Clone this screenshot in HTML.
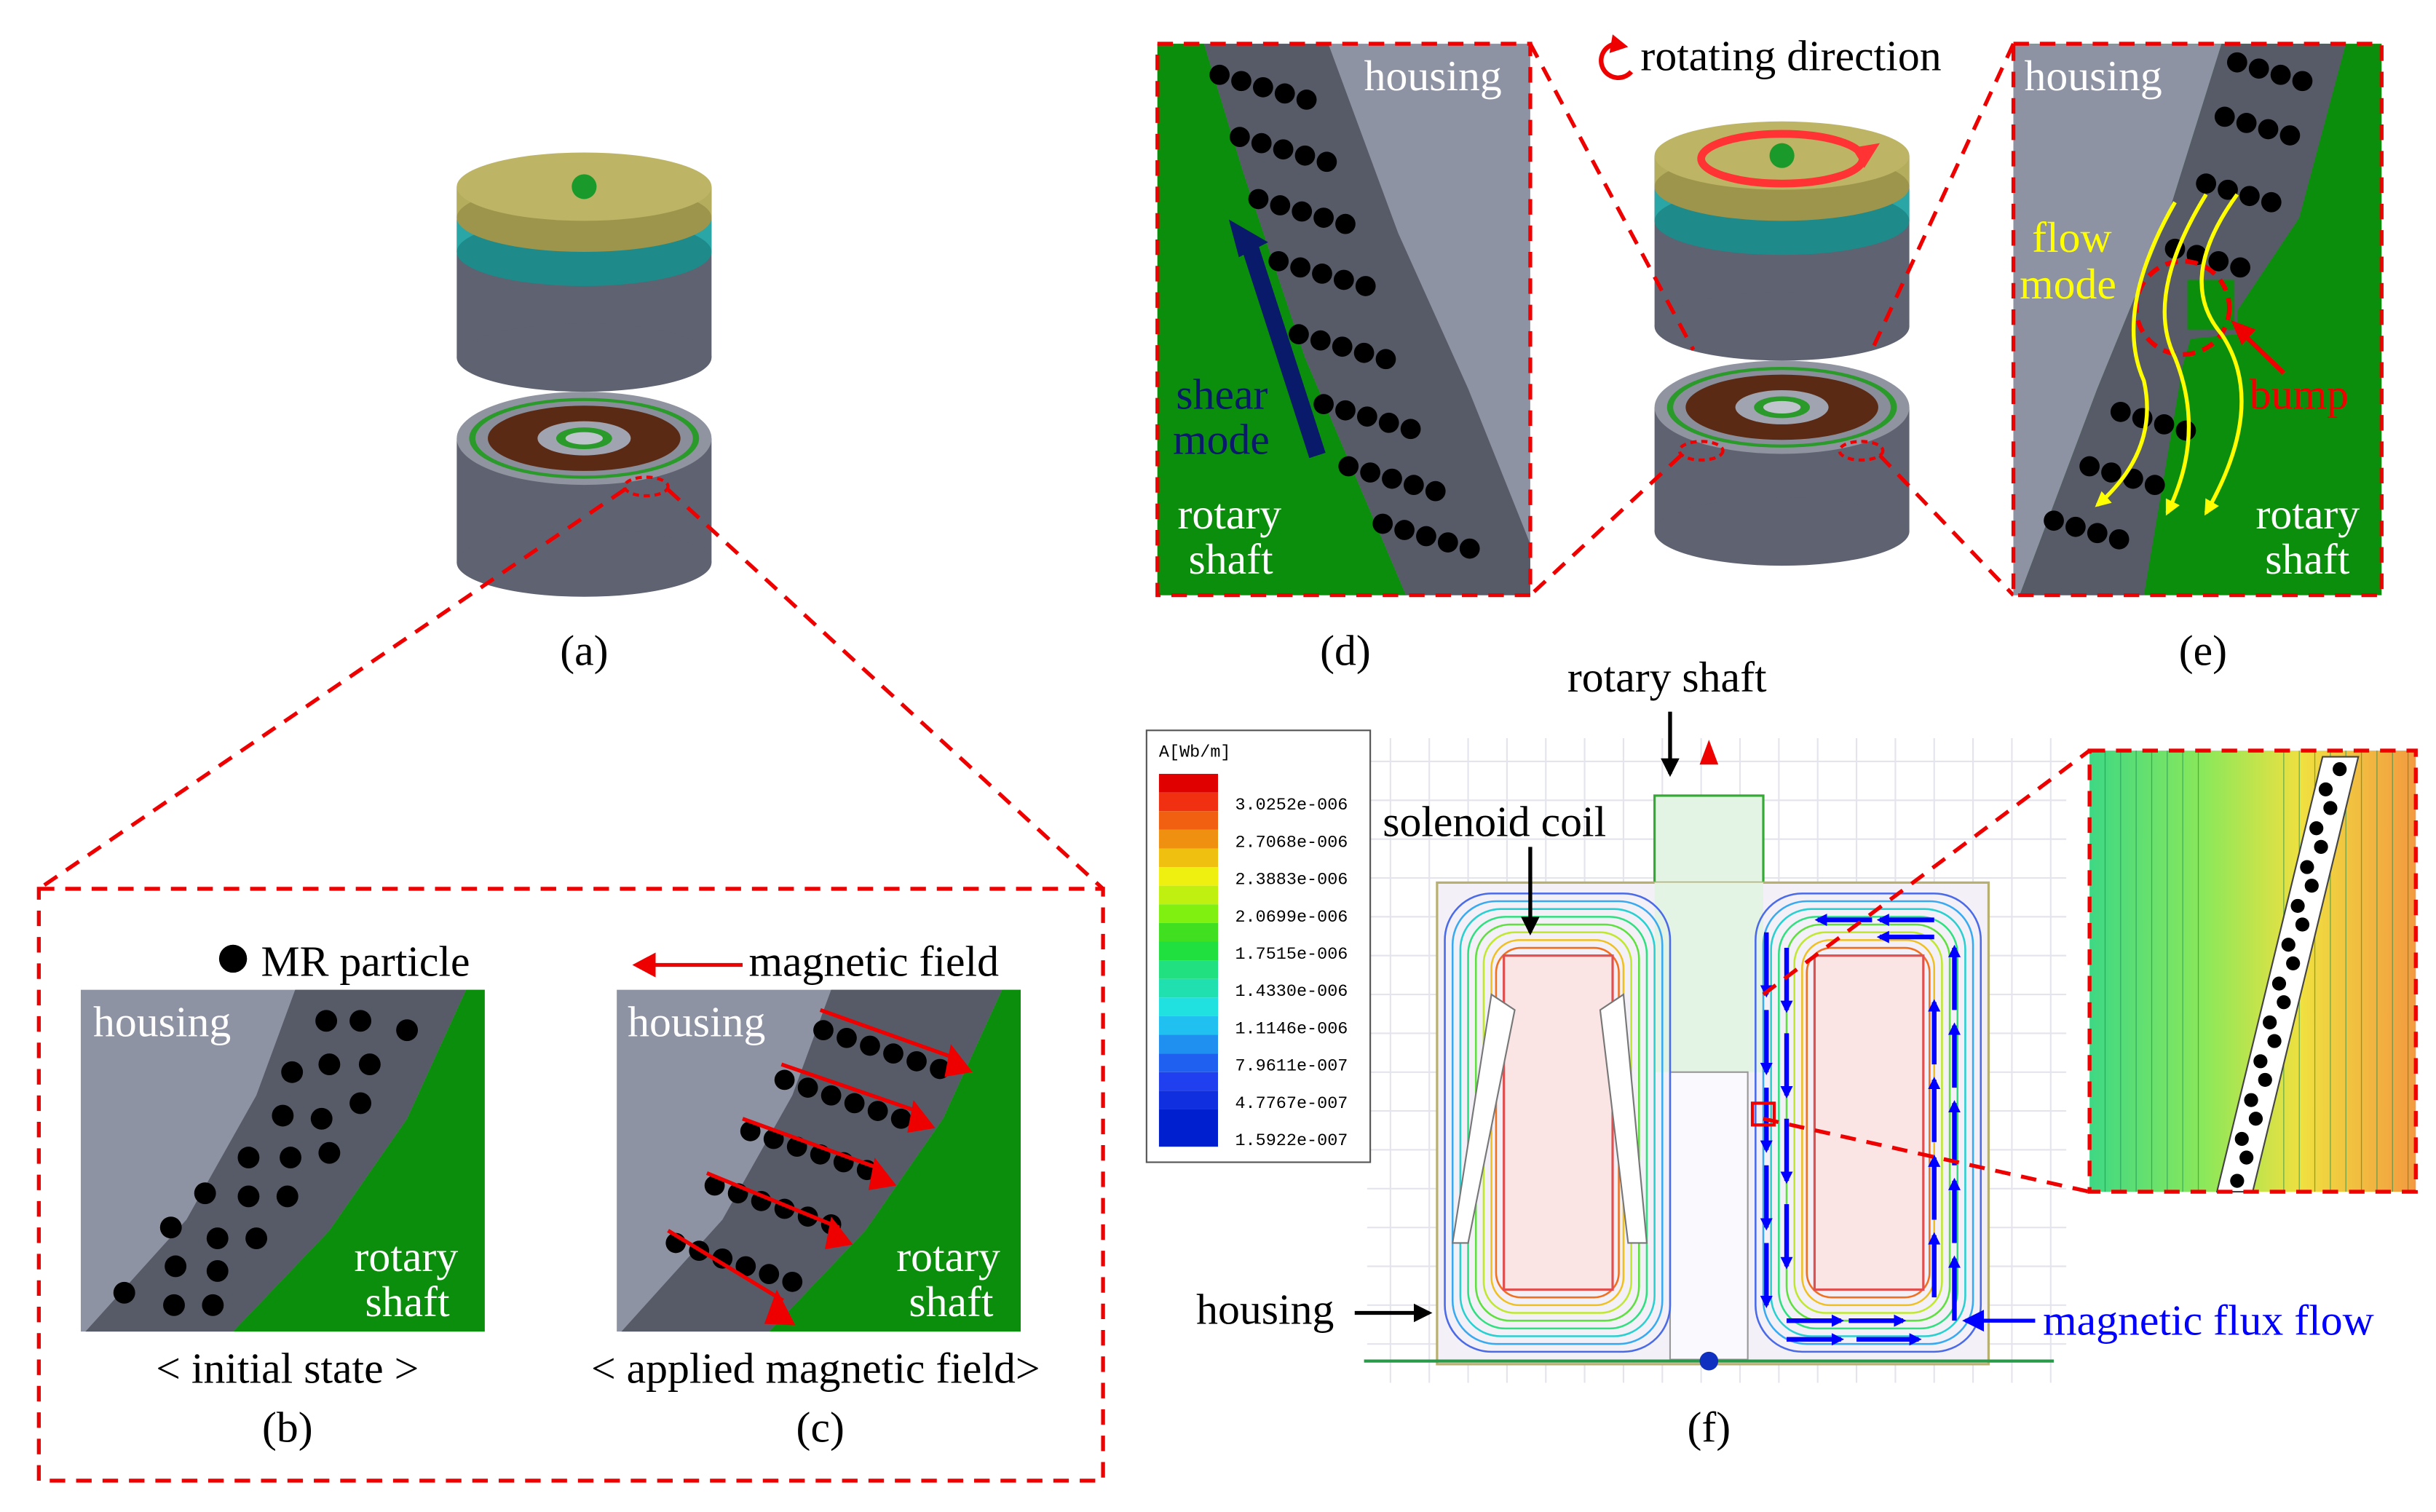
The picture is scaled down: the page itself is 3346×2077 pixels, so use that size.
<!DOCTYPE html>
<html><head><meta charset="utf-8"><style>
html,body{margin:0;padding:0;background:#fff;}
svg{display:block;}
text{font-family:"Liberation Serif",serif;}
text.mono{font-family:"Liberation Mono",monospace;}
</style></head><body>
<svg width="3346" height="2077" viewBox="0 0 1568 973" xmlns="http://www.w3.org/2000/svg">
<defs>
<marker id="ab" markerWidth="8" markerHeight="8" refX="6" refY="4" orient="auto" markerUnits="userSpaceOnUse"><path d="M0,0 L8,4 L0,8 z" fill="#00f"/></marker>
<marker id="ak" markerWidth="12" markerHeight="12" refX="10" refY="6" orient="auto" markerUnits="userSpaceOnUse"><path d="M0,0 L12,6 L0,12 z" fill="#000"/></marker>
<marker id="ay" markerWidth="10" markerHeight="10" refX="8" refY="5" orient="auto" markerUnits="userSpaceOnUse"><path d="M0,0 L10,5 L0,10 z" fill="#ff0"/></marker>
<marker id="abl" markerWidth="14" markerHeight="14" refX="12" refY="7" orient="auto" markerUnits="userSpaceOnUse"><path d="M0,0 L14,7 L0,14 z" fill="#00f"/></marker>
<linearGradient id="ing" x1="0" x2="1"><stop offset="0" stop-color="#3ed884"/><stop offset="0.35" stop-color="#8be85a"/><stop offset="0.65" stop-color="#f0e040"/><stop offset="1" stop-color="#f39a40"/></linearGradient>
<g id="rd"><circle cx="0" cy="0" r="6.5"/><circle cx="14" cy="4" r="6.5"/><circle cx="28" cy="8" r="6.5"/><circle cx="42" cy="12" r="6.5"/><circle cx="56" cy="16" r="6.5"/></g>
<g id="re"><circle cx="0" cy="0" r="6.5"/><circle cx="14" cy="4" r="6.5"/><circle cx="28" cy="8" r="6.5"/><circle cx="42" cy="12" r="6.5"/></g>
<g id="row1"><circle cx="0" cy="0" r="6.5"/><circle cx="15" cy="5" r="6.5"/><circle cx="30" cy="10" r="6.5"/><circle cx="45" cy="15" r="6.5"/><circle cx="60" cy="20" r="6.5"/><circle cx="75" cy="25" r="6.5"/></g>
<g id="dev">
 <rect x="-82" y="0" width="164" height="110" fill="#5f6270"/>
 <ellipse cx="0" cy="110" rx="82" ry="22" fill="#5f6270"/>
 <rect x="-82" y="22" width="164" height="20" fill="#2aa6a6"/>
 <ellipse cx="0" cy="42" rx="82" ry="22" fill="#1e8a8a"/>
 <rect x="-82" y="0" width="164" height="20" fill="#b5ad5e"/>
 <ellipse cx="0" cy="20" rx="82" ry="22" fill="#9d954c"/>
 <ellipse cx="0" cy="0" rx="82" ry="22" fill="#bdb565"/>
 <circle cx="0" cy="0" r="8" fill="#1a9a2a"/>
 <rect x="-82" y="162" width="164" height="80" fill="#5f6270"/>
 <ellipse cx="0" cy="242" rx="82" ry="22" fill="#5f6270"/>
 <ellipse cx="0" cy="162" rx="82" ry="30" fill="#9094a0"/>
 <ellipse cx="0" cy="162" rx="74" ry="26" fill="#2a9a2a"/>
 <ellipse cx="0" cy="162" rx="70" ry="24" fill="#8a8e9a"/>
 <ellipse cx="0" cy="162" rx="62" ry="21" fill="#5a2a14"/>
 <ellipse cx="0" cy="162" rx="30" ry="11" fill="#a0a4b0"/>
 <ellipse cx="0" cy="162" rx="18" ry="7" fill="#2a9a2a"/>
 <ellipse cx="0" cy="162" rx="12" ry="4" fill="#c0c4cc"/>
</g>
</defs>
<rect width="1568" height="973" fill="#fff"/>

<!-- (a) -->
<use href="#dev" x="376" y="120"/>
<ellipse cx="416" cy="313" rx="14" ry="6" fill="none" stroke="#e00" stroke-width="2" stroke-dasharray="4,3"/>
<text x="376" y="428" font-size="28" text-anchor="middle">(a)</text>
<line x1="402" y1="315" x2="25" y2="572" stroke="#e00" stroke-width="2.5" stroke-dasharray="10,7"/>
<line x1="430" y1="315" x2="710" y2="572" stroke="#e00" stroke-width="2.5" stroke-dasharray="10,7"/>
<rect x="25" y="572" width="685" height="381" fill="none" stroke="#e00" stroke-width="2.5" stroke-dasharray="10,7"/>

<!-- (b) -->
<rect x="52" y="637" width="260" height="220" fill="#8e93a3"/>
<polygon points="55,857 120,785 165,705 190,637 300,637 262,720 212,792 150,857" fill="#575a67"/>
<polygon points="150,857 212,792 262,720 300,637 312,637 312,857" fill="#0b8e0b"/>
<g fill="#000">
<circle cx="210" cy="657" r="7"/><circle cx="232" cy="657" r="7"/><circle cx="262" cy="663" r="7"/>
<circle cx="188" cy="690" r="7"/><circle cx="212" cy="685" r="7"/><circle cx="238" cy="685" r="7"/>
<circle cx="182" cy="718" r="7"/><circle cx="207" cy="720" r="7"/><circle cx="232" cy="710" r="7"/>
<circle cx="160" cy="745" r="7"/><circle cx="187" cy="745" r="7"/><circle cx="212" cy="742" r="7"/>
<circle cx="132" cy="768" r="7"/><circle cx="160" cy="770" r="7"/><circle cx="185" cy="770" r="7"/>
<circle cx="110" cy="790" r="7"/><circle cx="140" cy="797" r="7"/><circle cx="165" cy="797" r="7"/>
<circle cx="80" cy="832" r="7"/><circle cx="113" cy="815" r="7"/><circle cx="112" cy="840" r="7"/><circle cx="137" cy="840" r="7"/><circle cx="140" cy="818" r="7"/>
</g>
<circle cx="150" cy="617" r="9" fill="#000"/>
<text x="168" y="628" font-size="28">MR particle</text>
<text x="60" y="667" font-size="28" fill="#fff">housing</text>
<text x="228" y="818" font-size="28" fill="#fff">rotary</text>
<text x="235" y="847" font-size="28" fill="#fff">shaft</text>
<text x="185" y="890" font-size="28" text-anchor="middle">&lt; initial state &gt;</text>
<text x="185" y="928" font-size="28" text-anchor="middle">(b)</text>

<!-- (c) -->
<rect x="397" y="637" width="260" height="220" fill="#8e93a3"/>
<polygon points="400,857 465,785 510,705 535,637 645,637 607,720 557,792 495,857" fill="#575a67"/>
<polygon points="495,857 557,792 607,720 645,637 657,637 657,857" fill="#0b8e0b"/>
<g fill="#000">
<use href="#row1" x="530" y="663"/><use href="#row1" x="505" y="695"/><use href="#row1" x="483" y="728"/><use href="#row1" x="460" y="763"/><use href="#row1" x="435" y="800"/>
</g>
<g stroke="#e00" stroke-width="2.5">
<line x1="528" y1="650" x2="612" y2="680"/><line x1="503" y1="685" x2="590" y2="715"/><line x1="478" y1="720" x2="566" y2="752"/><line x1="455" y1="755" x2="540" y2="790"/><line x1="430" y1="792" x2="504" y2="837"/>
</g>
<g fill="#e00">
<polygon points="612,672 626,690 608,693"/><polygon points="588,708 602,726 584,729"/><polygon points="563,745 577,763 559,766"/><polygon points="535,783 549,801 531,804"/><polygon points="500,830 512,853 492,852"/>
</g>
<line x1="478" y1="621" x2="420" y2="621" stroke="#e00" stroke-width="2.5"/>
<polygon points="407,621 422,613 422,629" fill="#e00"/>
<text x="482" y="628" font-size="28">magnetic field</text>
<text x="404" y="667" font-size="28" fill="#fff">housing</text>
<text x="577" y="818" font-size="28" fill="#fff">rotary</text>
<text x="585" y="847" font-size="28" fill="#fff">shaft</text>
<text x="525" y="890" font-size="28" text-anchor="middle">&lt; applied magnetic field&gt;</text>
<text x="528" y="928" font-size="28" text-anchor="middle">(c)</text>

<!-- (d) -->
<rect x="745" y="28" width="240" height="355" fill="#8e93a3"/>
<polygon points="745,28 775,28 800,110 840,230 905,383 745,383" fill="#0b8e0b"/>
<polygon points="775,28 855,28 900,150 945,250 985,350 985,383 905,383 840,230 800,110" fill="#575a67"/>
<g fill="#000">
<use href="#rd" x="785" y="48"/><use href="#rd" x="798" y="88"/><use href="#rd" x="810" y="128"/><use href="#rd" x="823" y="168"/><use href="#rd" x="836" y="215"/><use href="#rd" x="852" y="260"/><use href="#rd" x="868" y="300"/><use href="#rd" x="890" y="337"/>
</g>
<line x1="848" y1="293" x2="805" y2="160" stroke="#0a1a6a" stroke-width="11"/>
<polygon points="793,140 816,158 796,165" fill="#0a1a6a" transform="rotate(-8 800 155)"/>
<text x="757" y="263" font-size="28" fill="#0a1a6a">shear</text>
<text x="755" y="292" font-size="28" fill="#0a1a6a">mode</text>
<text x="758" y="340" font-size="28" fill="#fff">rotary</text>
<text x="765" y="369" font-size="28" fill="#fff">shaft</text>
<text x="878" y="58" font-size="28" fill="#fff">housing</text>
<rect x="745" y="28" width="240" height="355" fill="none" stroke="#e00" stroke-width="2.5" stroke-dasharray="10,7"/>
<text x="866" y="428" font-size="28" text-anchor="middle">(d)</text>

<!-- center device -->
<use href="#dev" x="1147" y="100"/>
<ellipse cx="1147" cy="102" rx="52" ry="16" fill="none" stroke="#f33" stroke-width="5"/>
<polygon points="1192,95 1210,92 1200,108" fill="#f33"/>
<ellipse cx="1095" cy="290" rx="14" ry="6" fill="none" stroke="#e00" stroke-width="2" stroke-dasharray="4,3"/>
<ellipse cx="1198" cy="290" rx="14" ry="6" fill="none" stroke="#e00" stroke-width="2" stroke-dasharray="4,3"/>
<line x1="1082" y1="293" x2="985" y2="383" stroke="#e00" stroke-width="2.5" stroke-dasharray="10,7"/>
<line x1="985" y1="28" x2="1090" y2="225" stroke="#e00" stroke-width="2.5" stroke-dasharray="10,7"/>
<line x1="1210" y1="293" x2="1296" y2="383" stroke="#e00" stroke-width="2.5" stroke-dasharray="10,7"/>
<line x1="1296" y1="28" x2="1205" y2="225" stroke="#e00" stroke-width="2.5" stroke-dasharray="10,7"/>
<path d="M1040,28 A11,11 0 1 0 1050,46" fill="none" stroke="#e00" stroke-width="3"/>
<polygon points="1038,22 1048,30 1036,34" fill="#e00"/>
<text x="1056" y="45" font-size="28">rotating direction</text>

<!-- (e) -->
<rect x="1296" y="28" width="237" height="355" fill="#0b8e0b"/>
<polygon points="1296,28 1430,28 1395,140 1350,250 1300,383 1296,383" fill="#8e93a3"/>
<polygon points="1430,28 1510,28 1480,140 1440,200 1440,215 1410,218 1405,235 1380,383 1300,383 1350,250 1395,140" fill="#575a67"/>
<rect x="1408" y="180" width="30" height="32" fill="#0b8e0b"/>
<g fill="#000">
<use href="#re" x="1440" y="40"/><use href="#re" x="1432" y="75"/><use href="#re" x="1420" y="118"/><use href="#re" x="1400" y="160"/><use href="#re" x="1365" y="265"/><use href="#re" x="1345" y="300"/><use href="#re" x="1322" y="335"/>
</g>
<circle cx="1405" cy="198" r="30" fill="none" stroke="#e00" stroke-width="3" stroke-dasharray="8,5"/>
<g fill="none" stroke="#ff0" stroke-width="2.5">
<path d="M1440,125 Q1400,180 1430,215 Q1460,260 1420,330" marker-end="url(#ay)"/>
<path d="M1420,125 Q1380,190 1400,230 Q1420,280 1395,330" marker-end="url(#ay)"/>
<path d="M1400,130 Q1360,200 1380,245 Q1390,290 1350,325" marker-end="url(#ay)"/>
</g>
<text x="1308" y="162" font-size="28" fill="#ff0">flow</text>
<text x="1300" y="192" font-size="28" fill="#ff0">mode</text>
<line x1="1470" y1="240" x2="1442" y2="213" stroke="#e00" stroke-width="3"/>
<polygon points="1436,206 1452,212 1443,222" fill="#e00"/>
<text x="1448" y="263" font-size="28" fill="#e00">bump</text>
<text x="1303" y="58" font-size="28" fill="#fff">housing</text>
<text x="1452" y="340" font-size="28" fill="#fff">rotary</text>
<text x="1458" y="369" font-size="28" fill="#fff">shaft</text>
<rect x="1296" y="28" width="237" height="355" fill="none" stroke="#e00" stroke-width="2.5" stroke-dasharray="10,7"/>
<text x="1418" y="428" font-size="28" text-anchor="middle">(e)</text>

<!-- (f) -->
<g stroke="#e4e4ec" stroke-width="1">
<path d="M880,490H1330M880,515H1330M880,540H1330M880,565H1330M880,590H1330M880,615H1330M880,640H1330M880,665H1330M880,690H1330M880,715H1330M880,740H1330M880,765H1330M880,790H1330M880,815H1330M880,840H1330M880,865H1330"/>
<path d="M895,475V890M920,475V890M945,475V890M970,475V890M995,475V890M1020,475V890M1045,475V890M1070,475V890M1095,475V890M1120,475V890M1145,475V890M1170,475V890M1195,475V890M1220,475V890M1245,475V890M1270,475V890M1295,475V890M1320,475V890"/>
</g>
<rect x="1065" y="512" width="70" height="178" fill="#e4f4e4" stroke="#3a3" stroke-width="1.5"/>
<rect x="925" y="568" width="355" height="310" fill="#f3f0f8" stroke="#b8b070" stroke-width="1.5"/>
<rect x="1065" y="568" width="70" height="122" fill="#e4f4e4"/>
<rect x="1075" y="690" width="50" height="185" fill="#fafafe" stroke="#999" stroke-width="1"/>
<g fill="none" stroke-width="1.2">
<rect x="930" y="575" width="145" height="295" rx="30" stroke="#4a6ae8"/>
<rect x="935" y="580" width="135" height="285" rx="28" stroke="#3aaaf0"/>
<rect x="940" y="585" width="125" height="275" rx="26" stroke="#2ad0d0"/>
<rect x="945" y="590" width="115" height="265" rx="24" stroke="#30e080"/>
<rect x="950" y="595" width="105" height="255" rx="22" stroke="#60e040"/>
<rect x="955" y="600" width="95" height="245" rx="20" stroke="#c0e830"/>
<rect x="960" y="605" width="85" height="235" rx="18" stroke="#f0c020"/>
<rect x="963" y="610" width="79" height="225" rx="16" stroke="#f07020"/>
<rect x="1130" y="575" width="145" height="295" rx="30" stroke="#4a6ae8"/>
<rect x="1135" y="580" width="135" height="285" rx="28" stroke="#3aaaf0"/>
<rect x="1140" y="585" width="125" height="275" rx="26" stroke="#2ad0d0"/>
<rect x="1145" y="590" width="115" height="265" rx="24" stroke="#30e080"/>
<rect x="1150" y="595" width="105" height="255" rx="22" stroke="#60e040"/>
<rect x="1155" y="600" width="95" height="245" rx="20" stroke="#c0e830"/>
<rect x="1160" y="605" width="85" height="235" rx="18" stroke="#f0c020"/>
<rect x="1163" y="610" width="79" height="225" rx="16" stroke="#f07020"/>
</g>
<rect x="968" y="615" width="70" height="215" fill="#fbe4e4" stroke="#e05050" stroke-width="1.5"/>
<rect x="1168" y="615" width="70" height="215" fill="#fbe4e4" stroke="#e05050" stroke-width="1.5"/>
<path d="M935,800 L960,640 L975,650 L945,800Z M1060,800 L1045,640 L1030,650 L1048,800Z" fill="#fff" stroke="#777" stroke-width="1"/>
<g stroke="#00f" stroke-width="3" marker-end="url(#ab)">
<line x1="1137" y1="600" x2="1137" y2="640"/><line x1="1137" y1="650" x2="1137" y2="690"/><line x1="1137" y1="700" x2="1137" y2="740"/><line x1="1137" y1="750" x2="1137" y2="790"/><line x1="1137" y1="800" x2="1137" y2="840"/>
<line x1="1150" y1="610" x2="1150" y2="650"/><line x1="1150" y1="665" x2="1150" y2="705"/><line x1="1150" y1="720" x2="1150" y2="760"/><line x1="1150" y1="775" x2="1150" y2="815"/>
<line x1="1258" y1="850" x2="1258" y2="810"/><line x1="1258" y1="800" x2="1258" y2="760"/><line x1="1258" y1="750" x2="1258" y2="710"/><line x1="1258" y1="700" x2="1258" y2="660"/><line x1="1258" y1="650" x2="1258" y2="610"/>
<line x1="1245" y1="835" x2="1245" y2="795"/><line x1="1245" y1="785" x2="1245" y2="745"/><line x1="1245" y1="735" x2="1245" y2="695"/><line x1="1245" y1="685" x2="1245" y2="645"/>
<line x1="1150" y1="850" x2="1185" y2="850"/><line x1="1190" y1="850" x2="1225" y2="850"/><line x1="1150" y1="862" x2="1185" y2="862"/><line x1="1195" y1="862" x2="1235" y2="862"/>
<line x1="1245" y1="592" x2="1210" y2="592"/><line x1="1205" y1="592" x2="1170" y2="592"/><line x1="1245" y1="603" x2="1210" y2="603"/>
</g>
<line x1="878" y1="876" x2="1322" y2="876" stroke="#2a9a4a" stroke-width="2"/>
<circle cx="1100" cy="876" r="6" fill="#1030c0"/>
<polygon points="1100,476 1094,492 1106,492" fill="#e00"/>
<line x1="1075" y1="458" x2="1075" y2="498" stroke="#000" stroke-width="2.5" marker-end="url(#ak)"/>
<text x="1073" y="445" font-size="28" text-anchor="middle">rotary shaft</text>
<text x="890" y="538" font-size="28">solenoid coil</text>
<line x1="985" y1="545" x2="985" y2="600" stroke="#000" stroke-width="2.5" marker-end="url(#ak)"/>
<text x="770" y="852" font-size="28">housing</text>
<line x1="872" y1="845" x2="920" y2="845" stroke="#000" stroke-width="2.5" marker-end="url(#ak)"/>
<line x1="1310" y1="850" x2="1265" y2="850" stroke="#00f" stroke-width="2.5" marker-end="url(#abl)"/>
<text x="1315" y="859" font-size="28" fill="#00f">magnetic flux flow</text>
<line x1="1135" y1="720" x2="1345" y2="767" stroke="#e00" stroke-width="2.5" stroke-dasharray="10,7"/>
<line x1="1135" y1="640" x2="1345" y2="483" stroke="#e00" stroke-width="2.5" stroke-dasharray="10,7"/>
<rect x="1128" y="710" width="14" height="14" fill="none" stroke="#e00" stroke-width="2"/>
<text x="1100" y="928" font-size="28" text-anchor="middle">(f)</text>

<!-- legend -->
<rect x="738" y="470" width="144" height="278" fill="#fff" stroke="#555" stroke-width="1"/>
<text class="mono" x="746" y="487" font-size="11">A[Wb/m]</text>
<g>
<rect x="746" y="498" width="38" height="12" fill="#e00000"/><rect x="746" y="510" width="38" height="12" fill="#f03010"/>
<rect x="746" y="522" width="38" height="12" fill="#f06010"/><rect x="746" y="534" width="38" height="12" fill="#f09010"/>
<rect x="746" y="546" width="38" height="12" fill="#f0c010"/><rect x="746" y="558" width="38" height="12" fill="#f0f010"/>
<rect x="746" y="570" width="38" height="12" fill="#c0f010"/><rect x="746" y="582" width="38" height="12" fill="#80f010"/>
<rect x="746" y="594" width="38" height="12" fill="#40e020"/><rect x="746" y="606" width="38" height="12" fill="#20e040"/>
<rect x="746" y="618" width="38" height="12" fill="#20e080"/><rect x="746" y="630" width="38" height="12" fill="#20e0b0"/>
<rect x="746" y="642" width="38" height="12" fill="#20e0e0"/><rect x="746" y="654" width="38" height="12" fill="#20c0f0"/>
<rect x="746" y="666" width="38" height="12" fill="#2090f0"/><rect x="746" y="678" width="38" height="12" fill="#2060f0"/>
<rect x="746" y="690" width="38" height="12" fill="#2040f0"/><rect x="746" y="702" width="38" height="12" fill="#1030e0"/>
<rect x="746" y="714" width="38" height="24" fill="#0020d0"/>
</g>
<g font-size="11">
<text class="mono" x="795" y="521">3.0252e-006</text><text class="mono" x="795" y="545">2.7068e-006</text><text class="mono" x="795" y="569">2.3883e-006</text>
<text class="mono" x="795" y="593">2.0699e-006</text><text class="mono" x="795" y="617">1.7515e-006</text><text class="mono" x="795" y="641">1.4330e-006</text>
<text class="mono" x="795" y="665">1.1146e-006</text><text class="mono" x="795" y="689">7.9611e-007</text><text class="mono" x="795" y="713">4.7767e-007</text>
<text class="mono" x="795" y="737">1.5922e-007</text>
</g>

<!-- inset -->
<rect x="1345" y="483" width="210" height="284" fill="url(#ing)"/>
<g stroke="#1a8a50" stroke-width="0.6" opacity="0.6">
<path d="M1355,483V767M1365,483V767M1375,483V767M1385,483V767M1395,483V767M1405,483V767M1415,483V767M1470,483V767M1480,483V767M1490,483V767M1500,483V767M1510,483V767M1520,483V767M1530,483V767M1540,483V767M1550,483V767"/>
</g>
<polygon points="1495,487 1518,487 1450,767 1427,767" fill="#fff" stroke="#444" stroke-width="1"/>
<g fill="#000">
<circle cx="1506" cy="495" r="4.5"/><circle cx="1500" cy="520" r="4.5"/><circle cx="1494" cy="545" r="4.5"/><circle cx="1488" cy="570" r="4.5"/>
<circle cx="1482" cy="595" r="4.5"/><circle cx="1476" cy="620" r="4.5"/><circle cx="1470" cy="645" r="4.5"/><circle cx="1464" cy="670" r="4.5"/>
<circle cx="1458" cy="695" r="4.5"/><circle cx="1452" cy="720" r="4.5"/><circle cx="1446" cy="745" r="4.5"/><circle cx="1440" cy="760" r="4.5"/>
<circle cx="1497" cy="508" r="4.5"/><circle cx="1491" cy="533" r="4.5"/><circle cx="1485" cy="558" r="4.5"/><circle cx="1479" cy="583" r="4.5"/>
<circle cx="1473" cy="608" r="4.5"/><circle cx="1467" cy="633" r="4.5"/><circle cx="1461" cy="658" r="4.5"/><circle cx="1455" cy="683" r="4.5"/>
<circle cx="1449" cy="708" r="4.5"/><circle cx="1443" cy="733" r="4.5"/>
</g>
<rect x="1345" y="483" width="210" height="284" fill="none" stroke="#e00" stroke-width="2.5" stroke-dasharray="10,7"/>
</svg>
</body></html>
